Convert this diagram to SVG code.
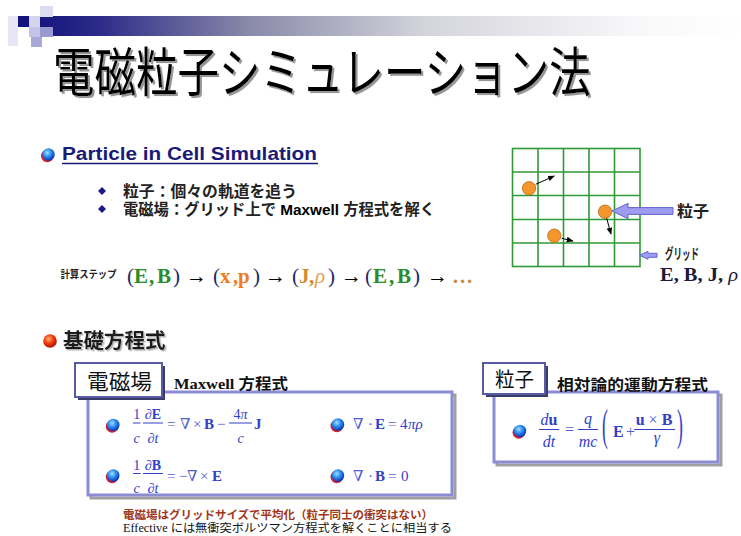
<svg xmlns="http://www.w3.org/2000/svg" width="741" height="536" viewBox="0 0 741 536">
<defs>
<style>
.jp{font-family:"Liberation Sans","Noto Sans CJK JP",sans-serif}
.cjk{font-family:"Noto Sans CJK JP",sans-serif}
.m{font-family:"Liberation Serif","DejaVu Serif",serif;fill:#3040c8}
.op{fill:#5060d0}
.b{font-weight:bold}
.i{font-style:italic}
.bar{stroke:#3040c8;stroke-width:1}
.gl{stroke:#2f9a35;stroke-width:1.6;fill:none}
.pt{fill:#f5962d;stroke:#b8681a;stroke-width:0.8}
.sa{stroke:#000;stroke-width:1;fill:none}
.big{fill:#9c9cf0;stroke:#6464c8;stroke-width:1}
.box{fill:#fff;stroke:#8c8cd4;stroke-width:3}
.bsh{fill:none;stroke:#a0a0a0;stroke-width:3}
.tab{fill:#fff;stroke:#5a5aa2;stroke-width:2}
.tsh{fill:#3c3c68}
</style>
<filter id="sh" x="-5%" y="-30%" width="110%" height="160%">
<feDropShadow dx="2" dy="1.6" stdDeviation="0.5" flood-color="#8a8a8a" flood-opacity="0.9"/>
</filter>
<filter id="sh2" x="-5%" y="-30%" width="110%" height="160%">
<feDropShadow dx="1.5" dy="1.5" stdDeviation="0.5" flood-color="#aaaaaa" flood-opacity="0.9"/>
</filter>
<linearGradient id="gbar" x1="0" y1="0" x2="1" y2="0">
<stop offset="0" stop-color="#16167e"/>
<stop offset="0.08" stop-color="#2a2a88"/>
<stop offset="0.3" stop-color="#8a8aaa"/>
<stop offset="0.55" stop-color="#d4d4dc"/>
<stop offset="0.85" stop-color="#f8f8fa"/>
<stop offset="1" stop-color="#ffffff"/>
</linearGradient>
<radialGradient id="gblue" cx="0.4" cy="0.35" r="0.65">
<stop offset="0" stop-color="#9be0ff"/>
<stop offset="0.5" stop-color="#2a8ef0"/>
<stop offset="1" stop-color="#1030b0"/>
</radialGradient>
<radialGradient id="gred" cx="0.4" cy="0.35" r="0.65">
<stop offset="0" stop-color="#ffb070"/>
<stop offset="0.5" stop-color="#f04010"/>
<stop offset="1" stop-color="#b01000"/>
</radialGradient>
<marker id="ah" viewBox="0 0 10 10" refX="9" refY="5" markerWidth="7" markerHeight="7" orient="auto" markerUnits="userSpaceOnUse">
<path d="M0,1 L10,5 L0,9 z" fill="#000"/>
</marker>
<g id="blt">
<circle cx="-1.2" cy="1.4" r="6.3" fill="#d02030"/>
<circle cx="0" cy="0" r="6.2" fill="url(#gblue)"/>
</g>
</defs>

<rect width="741" height="536" fill="#fff"/>

<g id="header">
<rect x="40" y="16" width="701" height="20" fill="url(#gbar)"/>
<rect x="8" y="16" width="10" height="30" fill="#e6e6f5"/>
<rect x="18" y="16" width="11" height="11" fill="#141480"/>
<rect x="29" y="16" width="11" height="11" fill="#d4d4ee"/>
<rect x="40" y="6" width="13" height="11" fill="#dcdcf0"/>
<rect x="29" y="27" width="11" height="10" fill="#c4c4e6"/>
<rect x="40" y="27" width="13" height="10" fill="#9a9ad0"/>
<rect x="31" y="37" width="11" height="10" fill="#a8a8d8"/>
</g>

<g id="title">
<text class="cjk" transform="translate(53,92) scale(1,1.3)" x="0" y="0" font-size="41.5" fill="#000" filter="url(#sh)">電磁粒子シミュレーション法</text>
</g>

<g id="pic-heading">
<use href="#blt" x="48.5" y="154.5"/>
<text class="jp b" x="62" y="160" font-size="18.5" textLength="255" lengthAdjust="spacingAndGlyphs" fill="#1a1a78">Particle in Cell Simulation</text>
<line x1="62" y1="163.5" x2="318" y2="163.5" stroke="#1a1a78" stroke-width="1.5"/>
</g>

<g id="bullets">
<path d="M102,187 L106,191 L102,195 L98,191 z" fill="#1a1a80"/>
<path d="M102,205 L106,209 L102,213 L98,209 z" fill="#1a1a80"/>
<text class="jp b" x="123" y="196.5" font-size="15.5" textLength="174" lengthAdjust="spacingAndGlyphs" fill="#222">粒子：個々の軌道を追う</text>
<text class="jp b" x="123" y="215" font-size="15.5" textLength="312" lengthAdjust="spacingAndGlyphs" fill="#222">電磁場：グリッド上で <tspan fill="#000">Maxwell</tspan> 方程式を解く</text>
</g>

<g id="steps">
<text class="jp b" x="60.5" y="278" font-size="10.5" textLength="56" lengthAdjust="spacingAndGlyphs" fill="#222">計算ステップ</text>
<text font-family="Liberation Serif, DejaVu Serif, serif" font-size="21" y="283">
<tspan x="127" fill="#1a2a6a">(</tspan><tspan x="134" fill="#2a8c2a" font-weight="bold">E</tspan><tspan x="149" fill="#2a8c2a" font-weight="bold">,</tspan><tspan x="157" fill="#2a8c2a" font-weight="bold">B</tspan><tspan x="173" fill="#1a2a6a">)</tspan>
<tspan x="186" fill="#000">→</tspan>
<tspan x="213" fill="#1a2a6a">(</tspan><tspan x="220" fill="#f07c1e" font-weight="bold">x</tspan><tspan x="233" fill="#f07c1e" font-weight="bold">,</tspan><tspan x="238" fill="#f07c1e" font-weight="bold">p</tspan><tspan x="253" fill="#1a2a6a">)</tspan>
<tspan x="265" fill="#000">→</tspan>
<tspan x="292" fill="#1a2a6a">(</tspan><tspan x="299" fill="#d08a30" font-weight="bold">J</tspan><tspan x="309" fill="#d08a30" font-weight="bold">,</tspan><tspan x="315" fill="#e0a050" font-style="italic">ρ</tspan><tspan x="328" fill="#1a2a6a">)</tspan>
<tspan x="341" fill="#000">→</tspan>
<tspan x="365" fill="#1a2a6a">(</tspan><tspan x="373" fill="#2a8c2a" font-weight="bold">E</tspan><tspan x="389" fill="#2a8c2a" font-weight="bold">,</tspan><tspan x="397" fill="#2a8c2a" font-weight="bold">B</tspan><tspan x="413" fill="#1a2a6a">)</tspan>
<tspan x="427" fill="#000">→</tspan>
<tspan x="452" fill="#c88a3a" font-weight="bold">…</tspan>
</text>
</g>

<g id="grid">
<rect class="gl" x="512.5" y="148.5" width="127.5" height="118"/>
<path class="gl" d="M538,148.5V266.5M563.5,148.5V266.5M589,148.5V266.5M614.5,148.5V266.5M512.5,172H640M512.5,195.5H640M512.5,219.5H640M512.5,243H640"/>
</g>
<g id="particles">
<circle class="pt" cx="529" cy="188.3" r="6.7"/>
<circle class="pt" cx="605" cy="211.7" r="6.7"/>
<circle class="pt" cx="554.3" cy="235.7" r="6.7"/>
</g>

<g id="connectors">
<line class="sa" x1="535.7" y1="184.3" x2="554.3" y2="176" marker-end="url(#ah)"/>
<line class="sa" x1="606.7" y1="218.3" x2="611" y2="234" marker-end="url(#ah)"/>
<line class="sa" x1="561.7" y1="238.3" x2="573" y2="241" marker-end="url(#ah)"/>
<path class="big" d="M612,211 L628,203.3 L628,207.6 L673,207.6 L673,214.4 L628,214.4 L628,218.7 z"/>
<path class="big" d="M639.5,255.3 L648,251.3 L648,253.3 L657,253.3 L657,257.3 L648,257.3 L648,259.3 z"/>
</g>

<g id="grid-labels">
<text class="jp b" x="677" y="217" font-size="16" fill="#222">粒子</text>
<text class="jp b" x="665" y="259" font-size="14.5" textLength="34" lengthAdjust="spacingAndGlyphs" fill="#222">グリッド</text>
<text font-family="Liberation Serif, serif" font-size="19" font-weight="bold" x="660" y="281" fill="#1a1a3a" textLength="78" lengthAdjust="spacingAndGlyphs">E, B, J, <tspan font-style="italic" font-weight="normal">ρ</tspan></text>
</g>

<g id="basic-heading">
<circle cx="50" cy="341" r="6.8" fill="url(#gred)"/>
<text class="jp b" x="63" y="347.5" font-size="20.5" fill="#1a1a1a" filter="url(#sh2)">基礎方程式</text>
</g>

<g id="maxwell-box">
<rect class="bsh" x="91" y="395" width="364" height="103"/>
<rect class="box" x="88" y="392" width="364" height="103"/>
<rect class="tsh" x="78" y="366" width="87" height="34"/>
<rect class="tab" x="75" y="363" width="87" height="34"/>
<text class="cjk" x="87" y="389" font-size="21" textLength="65" lengthAdjust="spacingAndGlyphs" fill="#111">電磁場</text>
<text x="174" y="389" font-size="15" textLength="114" lengthAdjust="spacingAndGlyphs" fill="#111" font-weight="bold"><tspan font-family="Liberation Serif, serif">Maxwell </tspan><tspan font-family="Noto Sans CJK JP, sans-serif">方程式</tspan></text>

<use href="#blt" x="113.3" y="425"/>
<use href="#blt" x="113.3" y="475.5"/>
<use href="#blt" x="338" y="424.5"/>
<use href="#blt" x="338" y="475.5"/>

<g class="m" font-size="14">
<text x="136.7" y="419" text-anchor="middle">1</text>
<text x="136.7" y="443" text-anchor="middle" class="i">c</text>
<text x="153" y="419" text-anchor="middle">∂<tspan font-weight="bold">E</tspan></text>
<text x="153" y="443" text-anchor="middle">∂<tspan font-style="italic">t</tspan></text>
<text x="240.5" y="419" text-anchor="middle">4<tspan font-style="italic">π</tspan></text>
<text x="240.5" y="443" text-anchor="middle" class="i">c</text>
</g>
<path class="bar" d="M133,423H140.5M143,423H163M229,423H252"/>
<g class="m" font-size="15">
<text x="167" y="429" class="op">=</text>
<text x="180" y="429" class="op">∇</text>
<text x="193" y="429" class="op">×</text>
<text x="204" y="429" font-weight="bold">B</text>
<text x="217" y="429" class="op">−</text>
<text x="254" y="429" font-weight="bold">J</text>
</g>
<g class="m" font-size="14">
<text x="136.7" y="470" text-anchor="middle">1</text>
<text x="136.7" y="493" text-anchor="middle" class="i">c</text>
<text x="153" y="470" text-anchor="middle">∂<tspan font-weight="bold">B</tspan></text>
<text x="153" y="493" text-anchor="middle">∂<tspan font-style="italic">t</tspan></text>
</g>
<path class="bar" d="M133,473.5H140.5M143,473.5H163"/>
<g class="m" font-size="15">
<text x="167" y="481" class="op">=</text>
<text x="179" y="481" class="op">−</text>
<text x="187" y="481" class="op">∇</text>
<text x="200" y="481" class="op">×</text>
<text x="212" y="481" font-weight="bold">E</text>
</g>
<g class="m" font-size="15">
<text x="353" y="429"><tspan class="op">∇</tspan><tspan x="368" class="op">·</tspan><tspan x="375" font-weight="bold">E</tspan><tspan x="388" class="op">=</tspan><tspan x="400">4</tspan><tspan x="408" font-style="italic">πρ</tspan></text>
<text x="353" y="481"><tspan class="op">∇</tspan><tspan x="368" class="op">·</tspan><tspan x="375" font-weight="bold">B</tspan><tspan x="388" class="op">=</tspan><tspan x="401">0</tspan></text>
</g>
</g>

<g id="particle-box">
<rect class="bsh" x="497" y="395" width="224" height="70"/>
<rect class="box" x="494" y="392" width="224" height="70"/>
<rect class="tsh" x="486" y="366" width="62" height="31"/>
<rect class="tab" x="483" y="363" width="62" height="31"/>
<text class="cjk" x="495" y="387" font-size="20" textLength="39" lengthAdjust="spacingAndGlyphs" fill="#111">粒子</text>
<text class="jp b" x="557" y="390" font-size="15" textLength="151" lengthAdjust="spacingAndGlyphs" fill="#111">相対論的運動方程式</text>
<use href="#blt" x="520" y="431"/>
<g class="m" font-size="16">
<text x="549" y="425" text-anchor="middle"><tspan font-style="italic">d</tspan><tspan font-weight="bold">u</tspan></text>
<text x="549" y="446.5" text-anchor="middle" class="i">dt</text>
<text x="565" y="435" class="op">=</text>
<text x="588" y="424" text-anchor="middle" class="i">q</text>
<text x="588" y="446.5" text-anchor="middle" class="i">mc</text>
<text x="613" y="437" font-weight="bold">E</text>
<text x="626" y="437" class="op">+</text>
<text x="654" y="425" text-anchor="middle"><tspan font-weight="bold">u</tspan><tspan class="op"> × </tspan><tspan font-weight="bold">B</tspan></text>
<text x="657" y="443" text-anchor="middle" class="i">γ</text>
</g>
<path class="bar" d="M539,429.5H559M578,429.5H598M634,429.5H675"/>
<text class="m" font-size="44" transform="translate(602,440) scale(0.4,1)" fill="#a0a6e0">(</text>
<text class="m" font-size="44" transform="translate(677,440) scale(0.4,1)" fill="#a0a6e0">)</text>
</g>

<g id="notes">
<text class="jp b" x="123" y="519" font-size="11.5" textLength="310" lengthAdjust="spacingAndGlyphs" fill="#a0381c">電磁場はグリッドサイズで平均化（粒子同士の衝突はない）</text>
<text x="123" y="532" font-size="11.5" textLength="329" lengthAdjust="spacingAndGlyphs" fill="#111"><tspan font-family="Liberation Serif, serif">Effective </tspan><tspan font-family="Liberation Sans, Noto Sans CJK JP, sans-serif">には無衝突ボルツマン方程式を解くことに相当する</tspan></text>
</g>
</svg>
